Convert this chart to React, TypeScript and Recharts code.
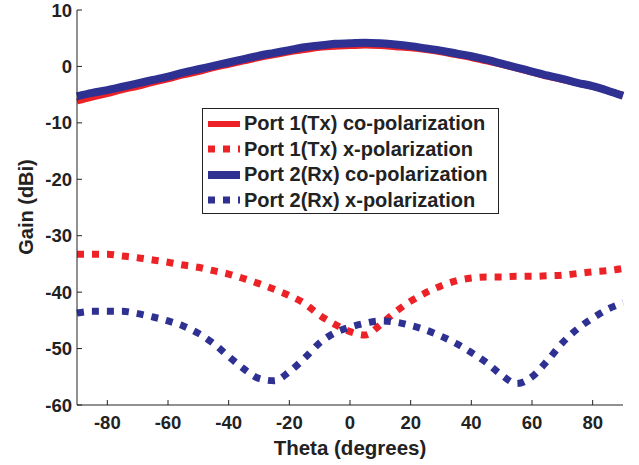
import { Line, LineChart, XAxis, YAxis } from "recharts";

const theta = [
  -90, -85, -80, -75, -70, -65, -60, -55, -50, -45, -40, -35, -30, -25, -20, -15, -10, -5, 0,
  5, 10, 15, 20, 25, 30, 35, 40, 45, 50, 55, 60, 65, 70, 75, 80, 85, 90,
];
const port1Co = [
  -6.2, -5.5, -4.9, -4.2, -3.6, -2.9, -2.3, -1.6, -1.0, -0.3, 0.3, 0.9, 1.5, 2.0, 2.5, 2.9, 3.3, 3.5, 3.6,
  3.7, 3.6, 3.4, 3.2, 2.9, 2.5, 2.0, 1.5, 0.9, 0.3, -0.4, -1.1, -1.8, -2.4, -3.0, -3.6, -4.3, -5.0,
];
const port1X = [
  -33.3, -33.3, -33.3, -33.6, -33.9, -34.3, -34.7, -35.2, -35.6, -36.2, -36.8, -37.6, -38.5, -39.5, -40.6, -42.0, -44.1, -45.7, -47.0,
  -47.6, -45.8, -43.5, -41.6, -40.1, -38.9, -38.0, -37.5, -37.3, -37.3, -37.2, -37.2, -37.1, -37.0, -36.7, -36.4, -36.2, -35.8,
];
const port2Co = [
  -5.3, -4.7, -4.2, -3.6, -3.0, -2.4, -1.8, -1.1, -0.5, 0.1, 0.7, 1.3, 1.9, 2.4, 2.9, 3.4, 3.7, 4.0, 4.1,
  4.2, 4.1, 3.9, 3.6, 3.2, 2.8, 2.3, 1.8, 1.2, 0.5, -0.2, -0.9, -1.6, -2.2, -2.9, -3.5, -4.3, -5.2,
];
const port2X = [
  -43.7, -43.4, -43.4, -43.4, -43.8, -44.4, -45.1, -46.0, -47.3, -49.1, -51.4, -53.6, -55.3, -55.7, -54.1, -51.7, -49.0, -47.2, -46.2,
  -45.5, -45.1, -45.3, -45.9, -46.7, -47.8, -49.1, -50.7, -52.5, -54.7, -56.2, -55.0, -52.2, -49.0, -46.5, -44.6, -43.0, -41.9,
];
const xTicks = [-80, -60, -40, -20, 0, 20, 40, 60, 80];
const yTicks = [-60, -50, -40, -30, -20, -10, 0, 10];

const RED = "#ec2227";
const BLUE = "#2e3192";
const FONT = "'Liberation Sans', Arial, sans-serif";

const series = [
  { key: "p1co", name: "Port 1(Tx) co-polarization", color: RED, width: 6, dash: undefined },
  { key: "p1x", name: "Port 1(Tx) x-polarization", color: RED, width: 7, dash: "7 8" },
  { key: "p2co", name: "Port 2(Rx) co-polarization", color: BLUE, width: 8, dash: undefined },
  { key: "p2x", name: "Port 2(Rx) x-polarization", color: BLUE, width: 7, dash: "7 8" },
];

const data = theta.map((t, i) => ({
  theta: t,
  p1co: port1Co[i],
  p1x: port1X[i],
  p2co: port2Co[i],
  p2x: port2X[i],
}));

const TICK_LEN = 5;

function BottomTick({ x, y, payload }: any) {
  return (
    <g>
      <line x1={x} y1={y} x2={x} y2={y - TICK_LEN} stroke="#222" strokeWidth={1} />
      <text x={x} y={y + 24} textAnchor="middle" fontFamily={FONT} fontWeight="bold" fontSize={18.5} fill="#222">
        {payload.value}
      </text>
    </g>
  );
}

function TopTick({ x, y }: any) {
  return <line x1={x} y1={y} x2={x} y2={y + TICK_LEN} stroke="#222" strokeWidth={1} />;
}

function LeftTick({ x, y, payload }: any) {
  return (
    <g>
      <line x1={x} y1={y} x2={x + TICK_LEN} y2={y} stroke="#222" strokeWidth={1} />
      <text x={x - 5} y={y + 6.5} textAnchor="end" fontFamily={FONT} fontWeight="bold" fontSize={18.5} fill="#222">
        {payload.value}
      </text>
    </g>
  );
}

function RightTick({ x, y }: any) {
  return <line x1={x} y1={y} x2={x - TICK_LEN} y2={y} stroke="#222" strokeWidth={1} />;
}

function LegendBox() {
  return (
    <div
      style={{
        position: "absolute",
        left: 202,
        top: 108,
        width: 297,
        height: 106,
        boxSizing: "border-box",
        border: "1px solid #222",
        background: "#fff",
        padding: "2px 0 0 5px",
        fontFamily: FONT,
        fontWeight: "bold",
        fontSize: 20,
        color: "#222",
      }}
    >
      {series.map((s) => (
        <div key={s.key} style={{ display: "flex", alignItems: "center", height: 25.5, whiteSpace: "nowrap" }}>
          <svg width={32} height={12} style={{ marginRight: 4, flex: "none", display: "block" }}>
            <line x1={0} y1={6} x2={32} y2={6} stroke={s.color} strokeWidth={s.width} strokeDasharray={s.dash} />
          </svg>
          <span>{s.name}</span>
        </div>
      ))}
    </div>
  );
}

export default function App() {
  return (
    <div style={{ position: "absolute", left: 0, top: 0, width: 639, height: 465, background: "#fff" }}>
      <LineChart width={639} height={465} data={data} margin={{ top: 10, right: 16, bottom: 0, left: 0 }}>
        <XAxis
          dataKey="theta"
          type="number"
          domain={[-90, 90]}
          ticks={xTicks}
          height={60}
          tickSize={0}
          tickMargin={0}
          tick={<BottomTick />}
          axisLine={{ stroke: "#222" }}
          tickLine={false}
        />
        <XAxis
          xAxisId="top"
          orientation="top"
          dataKey="theta"
          type="number"
          domain={[-90, 90]}
          ticks={xTicks}
          height={0}
          tickSize={0}
          tickMargin={0}
          tick={<TopTick />}
          axisLine={{ stroke: "#222" }}
          tickLine={false}
        />
        <YAxis
          type="number"
          domain={[-60, 10]}
          ticks={yTicks}
          width={77}
          tickSize={0}
          tickMargin={0}
          tick={<LeftTick />}
          axisLine={{ stroke: "#222" }}
          tickLine={false}
        />
        <YAxis
          yAxisId="right"
          orientation="right"
          type="number"
          domain={[-60, 10]}
          ticks={yTicks}
          width={0}
          tickSize={0}
          tickMargin={0}
          tick={<RightTick />}
          axisLine={{ stroke: "#222" }}
          tickLine={false}
        />
        {series.map((s) => (
          <Line
            key={s.key}
            dataKey={s.key}
            name={s.name}
            stroke={s.color}
            strokeWidth={s.width}
            strokeDasharray={s.dash}
            strokeLinecap="butt"
            type="monotone"
            dot={false}
            activeDot={false}
            isAnimationActive={false}
          />
        ))}
      </LineChart>
      <LegendBox />
      <div
        style={{
          position: "absolute",
          left: 0,
          width: 639,
          top: 436,
          paddingLeft: 77,
          paddingRight: 16,
          boxSizing: "border-box",
          textAlign: "center",
          fontFamily: FONT,
          fontWeight: "bold",
          fontSize: 20.5,
          color: "#222",
        }}
      >
        Theta (degrees)
      </div>
      <div
        style={{
          position: "absolute",
          left: 26,
          top: 207,
          transform: "translate(-50%, -50%) rotate(-90deg)",
          whiteSpace: "nowrap",
          fontFamily: FONT,
          fontWeight: "bold",
          fontSize: 20,
          color: "#222",
        }}
      >
        Gain (dBi)
      </div>
    </div>
  );
}
